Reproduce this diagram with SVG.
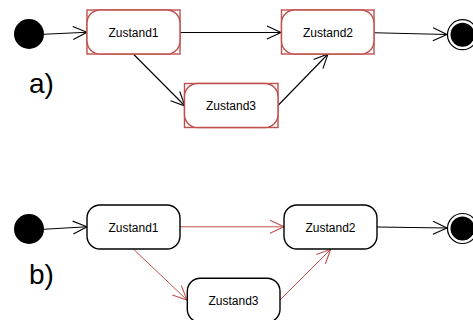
<svg xmlns="http://www.w3.org/2000/svg" width="473" height="320" viewBox="0 0 473 320">
  <defs>
    <marker id="open-black" markerUnits="userSpaceOnUse" markerWidth="20" markerHeight="20" viewBox="-16 -10 20 20" refX="0" refY="0" orient="auto">
      <path d="M-14,-6.5 L0,0 L-14,6.5" fill="none" stroke="#000" stroke-width="1.1"/>
    </marker>
    <marker id="open-red" markerUnits="userSpaceOnUse" markerWidth="20" markerHeight="20" viewBox="-16 -10 20 20" refX="0" refY="0" orient="auto">
      <path d="M-14,-6.5 L0,0 L-14,6.5" fill="none" stroke="#c0504d" stroke-width="1.1"/>
    </marker>
  </defs>
  <style>
    .state { fill: #fff; stroke: #000; stroke-width: 1.4; }
    .state-hl { fill: #fff; stroke: #c0504d; stroke-width: 1.4; }
    .frame { fill: none; stroke: #c0504d; stroke-width: 1.4; }
    .label { font-family: "Liberation Sans", Arial, sans-serif; font-size: 12px; fill: #000; text-anchor: middle; }
    .caption { font-family: "Liberation Sans", Arial, sans-serif; font-size: 28px; fill: #000; }
    .edge { fill: none; stroke: #000; stroke-width: 1.1; marker-end: url(#open-black); }
    .edge-hl { fill: none; stroke: #c0504d; stroke-width: 1; marker-end: url(#open-red); }
  </style>

  <rect width="473" height="320" fill="#fff"/>

  <!-- captions -->
  <text class="caption" x="29" y="93">a)</text>
  <text class="caption" x="29" y="284">b)</text>

  <!-- connectors -->
  <g id="connectors">
    <!-- a) -->
    <line class="edge" x1="44" y1="34.3" x2="87" y2="32.3"/>
    <line class="edge" x1="180" y1="32.5" x2="281" y2="32.5"/>
    <line class="edge" x1="133.3" y1="54" x2="185" y2="106"/>
    <line class="edge" x1="277.5" y1="106" x2="328" y2="54"/>
    <line class="edge" x1="374" y1="32.7" x2="447" y2="34.5"/>
    <!-- b) -->
    <line class="edge" x1="44" y1="229.3" x2="87" y2="226.8"/>
    <line class="edge-hl" x1="180" y1="226.8" x2="284" y2="226.8"/>
    <line class="edge-hl" x1="133.3" y1="249" x2="187" y2="300"/>
    <line class="edge-hl" x1="280" y1="300" x2="330.7" y2="249.3"/>
    <line class="edge" x1="377" y1="227" x2="447" y2="228"/>
  </g>

  <!-- a) nodes -->
  <g id="a-start"><circle cx="29" cy="34" r="15" fill="#000"/></g>
  <g id="a-zustand1">
    <rect class="frame" x="87" y="10" width="93" height="44"/>
    <rect class="state-hl" x="87" y="10" width="93" height="44" rx="13" ry="13"/>
    <text class="label" x="133.5" y="36.8">Zustand1</text>
  </g>
  <g id="a-zustand2">
    <rect class="frame" x="281.5" y="10" width="92.5" height="44"/>
    <rect class="state-hl" x="281.5" y="10" width="92.5" height="44" rx="13" ry="13"/>
    <text class="label" x="328" y="36.8">Zustand2</text>
  </g>
  <g id="a-zustand3">
    <rect class="frame" x="184.5" y="83.5" width="93.5" height="44"/>
    <rect class="state-hl" x="184.5" y="83.5" width="93.5" height="44" rx="13" ry="13"/>
    <text class="label" x="231" y="110">Zustand3</text>
  </g>
  <g id="a-end">
    <circle cx="462.5" cy="34.7" r="15" fill="#fff" stroke="#000" stroke-width="1.2"/>
    <circle cx="462.5" cy="34.7" r="12" fill="#000"/>
  </g>

  <!-- b) nodes -->
  <g id="b-start"><circle cx="29" cy="229" r="15" fill="#000"/></g>
  <g id="b-zustand1">
    <rect class="state" x="87" y="205" width="93" height="44" rx="13" ry="13"/>
    <text class="label" x="133.5" y="231.5">Zustand1</text>
  </g>
  <g id="b-zustand2">
    <rect class="state" x="284" y="205" width="93" height="44" rx="13" ry="13"/>
    <text class="label" x="330.5" y="231.5">Zustand2</text>
  </g>
  <g id="b-zustand3">
    <rect class="state" x="187.3" y="278.3" width="92.7" height="44" rx="13" ry="13"/>
    <text class="label" x="233.5" y="304.5">Zustand3</text>
  </g>
  <g id="b-end">
    <circle cx="462.5" cy="228.5" r="15" fill="#fff" stroke="#000" stroke-width="1.2"/>
    <circle cx="462.5" cy="228.5" r="12" fill="#000"/>
  </g>
</svg>
